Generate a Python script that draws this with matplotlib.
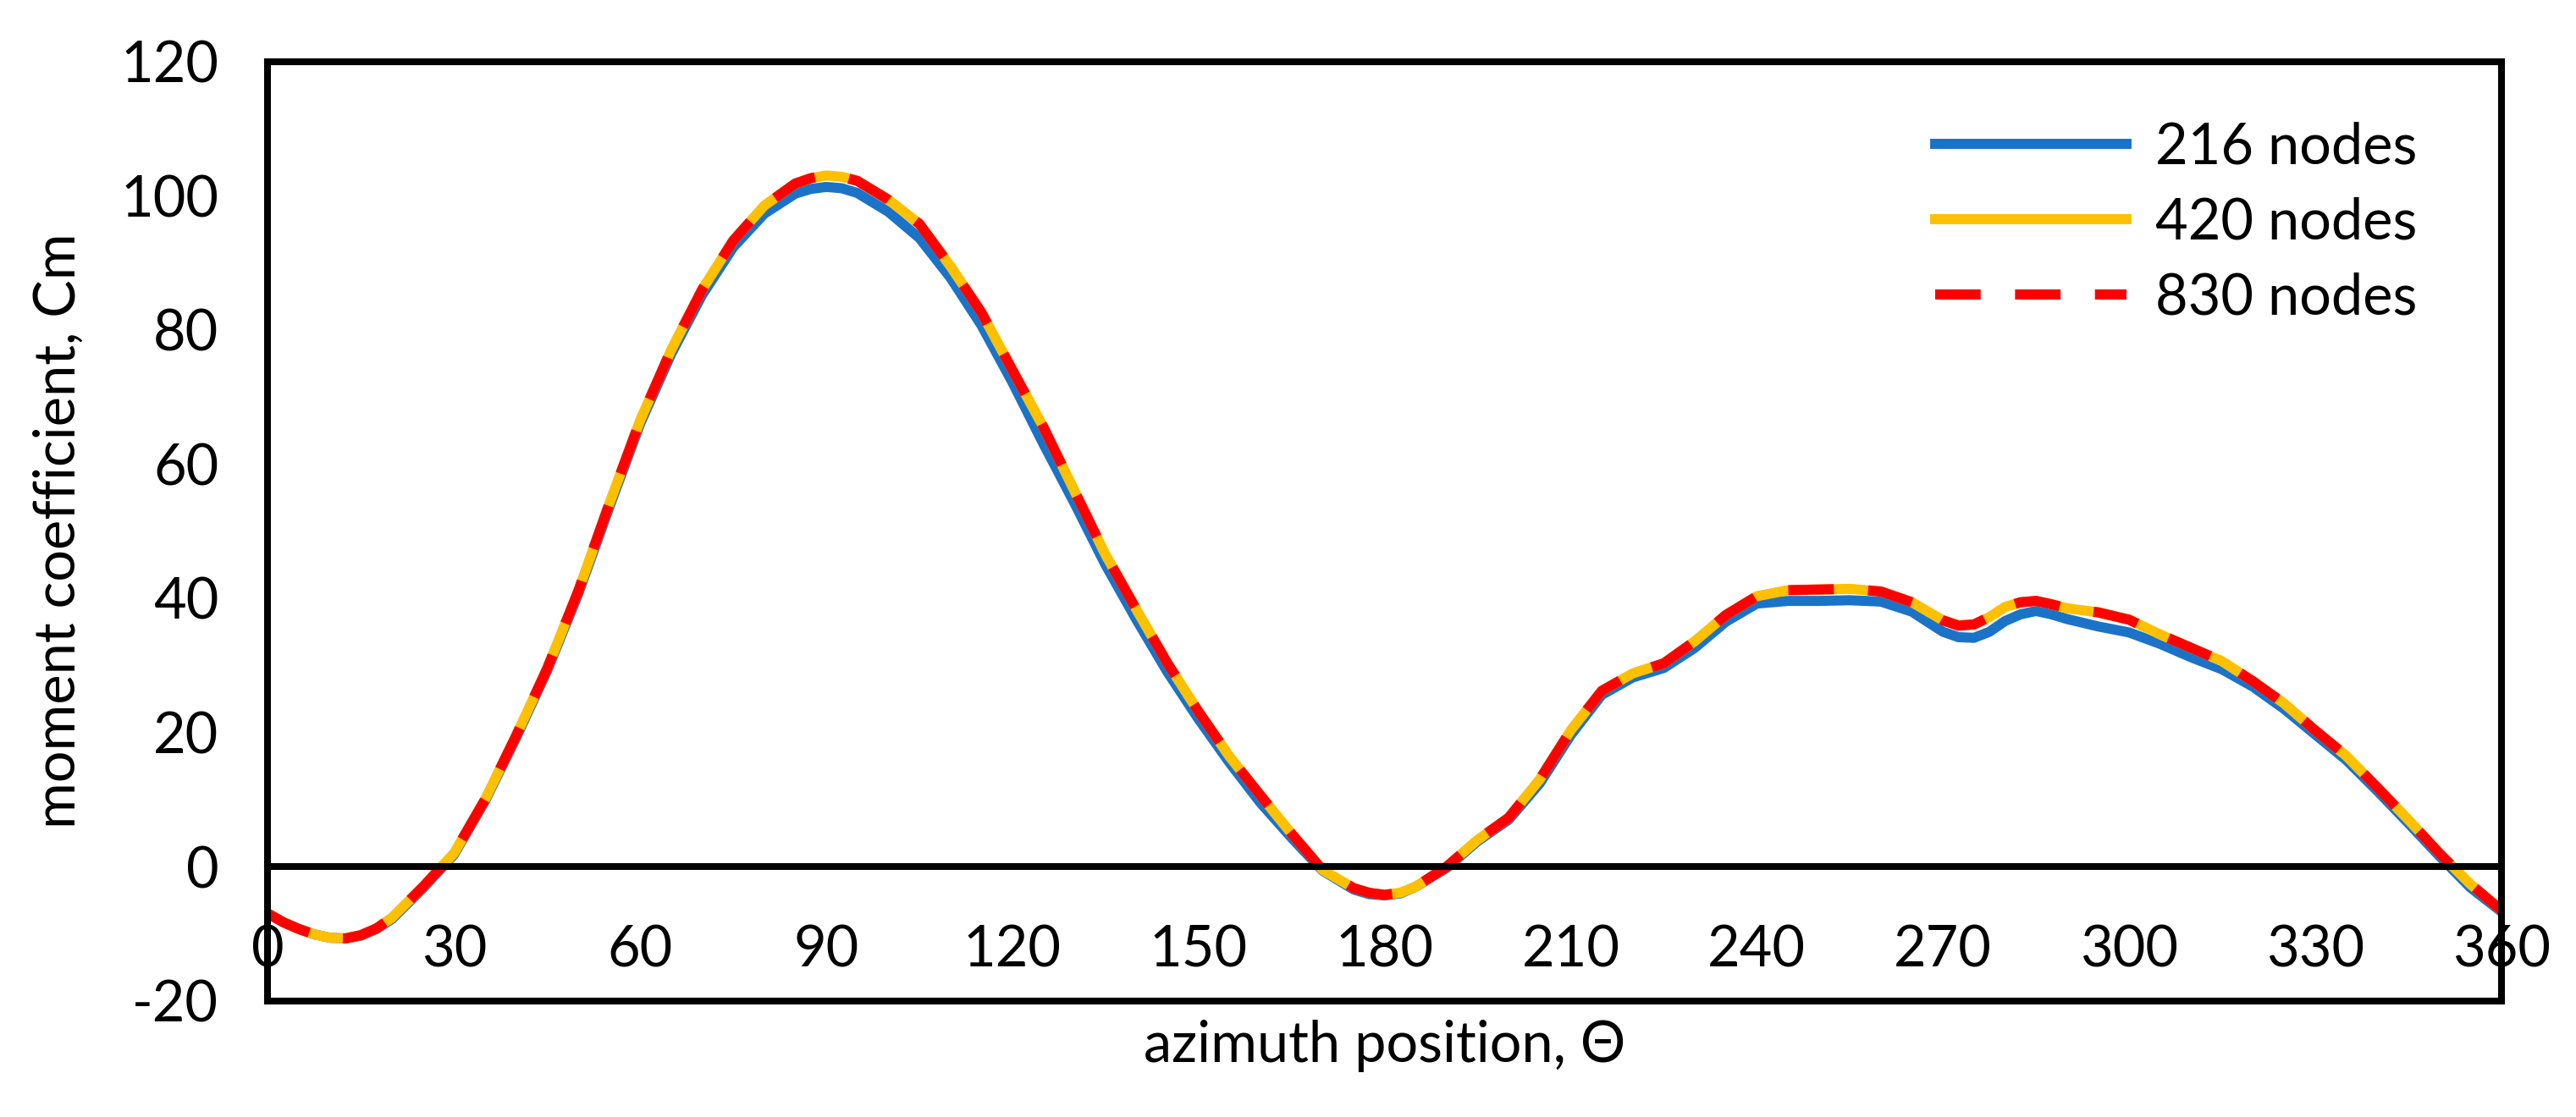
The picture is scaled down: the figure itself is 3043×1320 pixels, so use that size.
import matplotlib.pyplot as plt

plt.rcParams['font.family'] = ['Lato', 'DejaVu Sans']
plt.rcParams['axes.unicode_minus'] = False

# azimuth positions (deg)
theta = [0, 2.5, 5, 7.5, 10, 12.5, 15, 17.5, 20, 25, 30, 35, 40, 45, 50, 55, 60, 65, 70, 75,
         80, 85, 87.5, 90, 92.5, 95, 100, 105, 110, 115, 120, 125, 130, 135, 140, 145, 150,
         155, 160, 165, 170, 175, 177.5, 180, 182.5, 185, 190, 195, 200, 205, 210, 215, 220,
         225, 230, 235, 240, 245, 250, 255, 260, 265, 270, 272.5, 275, 277.5, 280, 282.5,
         285, 287.5, 290, 295, 300, 305, 310, 315, 320, 325, 330, 335, 340, 345, 350, 355, 360]

cm_216 = [-7.0, -8.3, -9.3, -10.1, -10.6, -10.7, -10.3, -9.3, -7.8, -3.2, 1.8, 9.8, 19.2,
          29.2, 40.6, 53.5, 66.0, 76.4, 85.2, 92.3, 97.3, 100.3, 101.0, 101.3, 101.1, 100.4,
          97.6, 93.7, 87.8, 80.7, 72.2, 63.0, 54.2, 45.0, 36.8, 29.0, 22.0, 15.5, 9.5, 4.3,
          -0.6, -3.4, -4.1, -4.3, -4.0, -3.0, -0.2, 3.8, 7.0, 12.4, 19.6, 25.6, 28.2, 29.6,
          32.6, 36.5, 39.2, 39.6, 39.6, 39.7, 39.5, 38.0, 35.0, 34.2, 34.1, 35.0, 36.6, 37.6,
          38.1, 37.6, 36.9, 35.8, 34.9, 33.2, 31.2, 29.4, 26.8, 23.5, 19.7, 15.9, 11.3, 6.5,
          1.6, -3.1, -6.7]

cm_420 = [-7.0, -8.3, -9.3, -10.1, -10.6, -10.7, -10.2, -9.2, -7.6, -3.0, 2.0, 10.0, 19.5,
          29.5, 41.0, 54.0, 66.5, 77.0, 86.0, 93.3, 98.5, 101.8, 102.6, 103.0, 102.8, 102.2,
          99.4, 95.8, 89.5, 82.6, 74.0, 65.5, 56.0, 46.5, 38.3, 30.3, 23.1, 16.4, 10.6, 4.9,
          -0.5, -3.2, -3.9, -4.2, -3.9, -3.0, 0.0, 4.0, 7.3, 13.0, 20.3, 26.2, 28.8, 30.3,
          33.6, 37.5, 40.3, 41.2, 41.3, 41.4, 41.0, 39.4, 36.7, 36.0, 36.1, 37.2, 38.7, 39.4,
          39.6, 39.1, 38.5, 37.9, 36.8, 34.6, 32.6, 30.6, 27.6, 24.3, 20.3, 16.5, 11.8, 7.0,
          2.0, -2.6, -6.5]

cm_830 = [-7.0, -8.3, -9.3, -10.1, -10.6, -10.7, -10.2, -9.2, -7.6, -3.0, 2.0, 10.0, 19.5,
          29.5, 41.0, 54.0, 66.5, 77.0, 86.0, 93.3, 98.5, 101.8, 102.6, 103.0, 102.8, 102.2,
          99.4, 95.8, 89.5, 82.6, 74.0, 65.5, 56.0, 46.5, 38.3, 30.3, 23.1, 16.4, 10.6, 4.9,
          -0.5, -3.2, -3.9, -4.2, -3.9, -3.0, 0.0, 4.0, 7.3, 13.0, 20.3, 26.2, 28.8, 30.3,
          33.6, 37.5, 40.3, 41.2, 41.3, 41.4, 41.0, 39.4, 36.7, 35.9, 36.1, 37.2, 38.7, 39.4,
          39.6, 39.1, 38.5, 37.9, 36.8, 34.6, 32.6, 30.6, 27.6, 24.3, 20.3, 16.5, 11.8, 7.0,
          2.0, -2.6, -6.5]

labels = ['216 nodes', '420 nodes', '830 nodes']

fig = plt.figure(figsize=(30.43, 13.2), dpi=100)
ax = fig.add_axes([0.104, 0.104, 0.867, 0.841])

lw = 8.6
ax.plot(theta, cm_216, color='#1B73C8', lw=lw, label=labels[0], solid_joinstyle='round')
ax.plot(theta, cm_420, color='#FFC000', lw=lw, label=labels[1], solid_joinstyle='round')
ax.plot(theta, cm_830, color='#FF0000', lw=lw, label=labels[2], dashes=(4.5, 3.4),
        dash_capstyle='butt', dash_joinstyle='round')

ax.set_xlim(0, 360)
ax.set_ylim(-20, 120)
ax.set_xticks(range(0, 361, 30))
ax.set_yticks(range(-20, 121, 20))

spine_lw = 5.8
for s in ax.spines.values():
    s.set_linewidth(spine_lw)
    s.set_color('black')
# x axis crosses at zero, box closed at bottom by a separate line
ax.spines['bottom'].set_position(('data', 0))
ax.axhline(-20, color='black', lw=spine_lw, clip_on=False, zorder=3)

ax.tick_params(axis='both', length=0, labelsize=48)
ax.tick_params(axis='x', pad=49)
ax.tick_params(axis='y', pad=42)

ax.set_ylabel('moment coefficient, Cm', fontsize=48, labelpad=30)
ax.set_xlabel('azimuth position, Θ', fontsize=48)
ax.xaxis.set_label_coords(0.5, -0.02)

ax.legend(loc='upper right', bbox_to_anchor=(0.985, 0.99), frameon=False,
          fontsize=48, handlelength=3.4, handletextpad=0.5, labelspacing=0.4)

fig.savefig('out.png', dpi=100)
